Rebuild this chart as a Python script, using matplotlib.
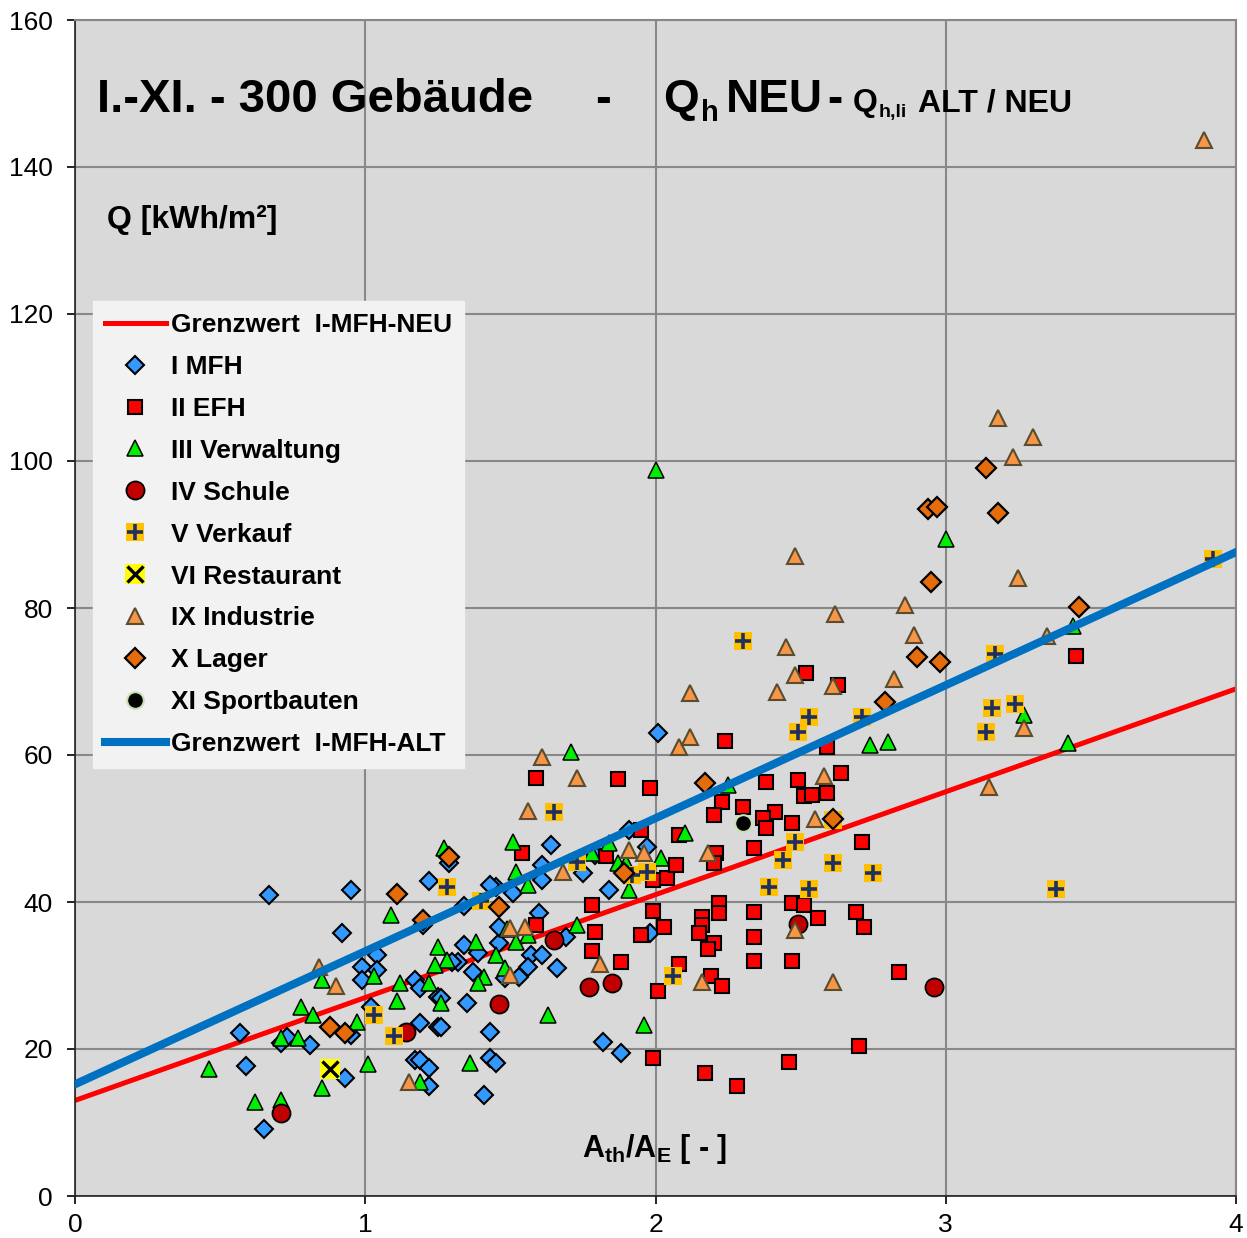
import matplotlib
matplotlib.use("Agg")
import matplotlib.pyplot as plt

plt.rcParams['font.family'] = ['Liberation Sans', 'DejaVu Sans']
plt.rcParams['mathtext.fontset'] = 'custom'
plt.rcParams['mathtext.rm'] = 'Liberation Sans'
plt.rcParams['mathtext.bf'] = 'Liberation Sans:bold'

# limit lines (A/V -> Q)
grenz_x = [0, 4]
grenz_neu_y = [13.0, 69.0]
grenz_alt_y = [15.2, 87.6]

# I MFH
mfh_x = [0.67, 0.95, 0.92, 0.57, 0.59, 0.65, 0.71, 0.73, 0.81, 0.93, 0.99, 1.04, 1.04, 0.99, 1.20,
         1.17, 1.19, 1.25, 1.32, 1.19, 1.25, 1.17, 1.19, 1.22, 1.22, 0.95, 1.02, 2.01, 1.64, 1.29,
         1.61, 1.79, 1.75, 1.61, 1.45, 1.51, 1.84, 1.91, 1.97, 1.60, 1.34, 1.43, 1.34, 1.39, 1.46,
         1.30, 1.37, 1.48, 1.53, 1.57, 1.61, 1.56, 1.66, 1.69, 1.98, 1.26, 1.35, 1.26, 1.43, 1.43,
         1.45, 1.41, 1.82, 1.88, 1.46, 1.22]
mfh_y = [41.0, 41.6, 35.8, 22.2, 17.7, 9.1, 20.8, 21.6, 20.5, 16.1, 31.2, 32.8, 30.7, 29.4, 36.9,
         29.4, 28.3, 27.1, 31.8, 23.5, 23.0, 18.5, 18.5, 17.4, 15.0, 21.9, 25.7, 63.0, 47.8, 45.3,
         45.0, 46.4, 43.9, 43.0, 42.0, 41.2, 41.6, 49.8, 47.5, 38.5, 39.5, 42.3, 34.1, 33.1, 34.4,
         31.8, 30.5, 29.7, 29.8, 32.8, 32.8, 31.2, 31.0, 35.2, 35.8, 26.9, 26.3, 23.0, 22.3, 18.8,
         18.1, 13.7, 21.0, 19.5, 36.6, 42.9]

# II EFH
efh_x = [1.59, 1.87, 1.98, 1.54, 1.83, 1.95, 2.08, 1.99, 2.04, 2.07, 1.78, 1.99, 2.24, 2.59, 2.38,
         2.49, 2.64, 2.51, 2.54, 2.59, 2.23, 2.20, 2.30, 2.41, 2.37, 2.38, 2.47, 2.71, 2.34, 2.21,
         2.20, 2.22, 2.47, 2.51, 2.34, 2.69, 2.22, 2.16, 2.16, 2.15, 2.56, 2.72, 2.20, 2.18, 2.34,
         2.34, 2.47, 2.19, 2.23, 2.84, 2.70, 2.46, 2.17, 2.28, 1.59, 1.79, 1.78, 1.88, 2.03, 1.95,
         2.08, 2.01, 1.99, 2.52, 2.63, 3.45]
efh_y = [56.9, 56.7, 55.5, 46.7, 46.3, 49.8, 49.1, 43.0, 43.3, 45.0, 39.6, 38.8, 61.9, 61.1, 56.3,
         56.6, 57.6, 54.4, 54.6, 54.8, 53.6, 51.8, 52.9, 52.2, 51.4, 50.1, 50.7, 48.2, 47.3, 46.7,
         45.3, 39.9, 39.9, 39.6, 38.6, 38.6, 38.5, 38.0, 36.9, 35.8, 37.8, 36.6, 34.4, 33.6, 35.2,
         32.0, 32.0, 29.9, 28.6, 30.5, 20.4, 18.2, 16.7, 15.0, 36.9, 35.9, 33.3, 31.8, 36.6, 35.5,
         31.6, 27.9, 18.8, 71.2, 69.5, 73.5]

# III Verwaltung
verw_x = [2.00, 3.00, 3.44, 3.27, 3.42, 2.74, 2.80, 2.25, 2.10, 1.71, 1.51, 1.27, 1.52, 1.56, 1.78,
          1.84, 1.87, 1.90, 2.02, 1.91, 1.38, 1.28, 1.45, 1.52, 1.56, 1.49, 1.48, 1.41, 1.39, 1.73,
          1.63, 1.96, 1.36, 1.26, 1.09, 1.25, 1.24, 1.12, 1.22, 1.11, 1.03, 0.85, 0.78, 0.82, 0.97,
          0.71, 0.77, 0.46, 1.01, 0.85, 0.62, 0.71, 1.19]
verw_y = [98.8, 89.4, 77.6, 65.4, 61.6, 61.4, 61.8, 55.9, 49.4, 60.4, 48.2, 47.3, 44.1, 42.3, 46.7,
          48.0, 45.3, 45.3, 46.0, 41.6, 34.6, 32.1, 32.8, 34.6, 35.5, 36.3, 31.0, 29.8, 29.0, 36.9,
          24.6, 23.3, 18.1, 26.3, 38.2, 33.9, 31.4, 29.0, 29.0, 26.5, 29.9, 29.4, 25.7, 24.6, 23.7,
          21.5, 21.5, 17.3, 18.0, 14.7, 12.8, 13.1, 15.5]

# IV Schule
schule_x = [0.71, 1.14, 1.46, 1.65, 1.77, 1.85, 2.49, 2.96]
schule_y = [11.3, 22.3, 26.1, 34.8, 28.4, 29.0, 37.0, 28.4]

# V Verkauf
verk_x = [2.30, 3.92, 3.17, 3.16, 3.24, 3.14, 3.38, 2.53, 2.71, 2.49, 2.61, 2.48, 2.44, 2.61, 2.75,
          2.39, 2.53, 1.65, 1.73, 1.92, 1.97, 1.28, 1.40, 1.03, 1.10, 2.06]
verk_y = [75.5, 86.7, 73.7, 66.4, 66.9, 63.1, 41.8, 65.2, 65.2, 63.1, 51.2, 48.2, 45.7, 45.3, 43.9,
          42.0, 41.8, 52.2, 45.4, 43.7, 44.1, 42.0, 40.1, 24.6, 21.8, 29.9]

# VI Restaurant
rest_x = [0.88]
rest_y = [17.3]

# IX Industrie
ind_x = [3.89, 3.18, 3.30, 3.23, 3.25, 2.86, 2.89, 2.82, 3.35, 3.27, 3.15, 2.48, 2.62, 2.45, 2.48,
         2.42, 2.12, 2.61, 1.61, 1.73, 1.56, 2.08, 2.12, 1.91, 1.96, 1.68, 2.58, 2.55, 2.18, 2.48,
         2.16, 2.61, 1.50, 1.55, 1.81, 1.50, 0.84, 0.90, 1.15]
ind_y = [143.7, 105.9, 103.3, 100.6, 84.1, 80.4, 76.3, 70.3, 76.2, 63.7, 55.6, 87.1, 79.2, 74.7, 70.9,
         68.6, 68.4, 69.4, 59.7, 56.9, 52.4, 61.1, 62.4, 47.1, 46.7, 44.1, 57.1, 51.3, 46.7, 36.2,
         29.1, 29.1, 36.5, 36.6, 31.6, 30.1, 31.2, 28.6, 15.5]

# X Lager
lager_x = [3.14, 2.94, 2.97, 3.18, 2.95, 3.46, 2.90, 2.98, 2.79, 2.17, 2.61, 1.89, 1.29, 1.46, 1.11,
           1.20, 0.88, 0.93]
lager_y = [99.0, 93.5, 93.7, 92.9, 83.5, 80.1, 73.3, 72.7, 67.2, 56.2, 51.3, 43.9, 46.1, 39.3, 41.1,
           37.6, 23.0, 22.2]

# XI Sportbauten
sport_x = [2.30]
sport_y = [50.7]

W, H = 1247, 1238
fig = plt.figure(figsize=(W / 100, H / 100), dpi=100)
ax = fig.add_axes([75 / W, 1 - 1196 / H, (1236 - 75) / W, (1196 - 20) / H])
ax.set_facecolor('#d9d9d9')

ax.set_xlim(0, 4)
ax.set_ylim(0, 160)
ax.set_xticks([0, 1, 2, 3, 4])
ax.set_yticks(range(0, 161, 20))
ax.grid(True, color='#888888', linewidth=1.5)
ax.set_axisbelow(True)
for s in ['top', 'right']:
    ax.spines[s].set_color('#888888')
    ax.spines[s].set_linewidth(1.5)
for s in ['left', 'bottom']:
    ax.spines[s].set_color('#222222')
    ax.spines[s].set_linewidth(1.2)
ax.tick_params(labelsize=19, length=6, width=1.2)
ax.tick_params(axis='y', pad=10)
ax.tick_params(axis='x', pad=6)

l_neu, = ax.plot(grenz_x, grenz_neu_y, color='#ff0000', lw=3.6, zorder=2,
                 label='Grenzwert  I-MFH-NEU')

h_mfh, = ax.plot(mfh_x, mfh_y, 'D', ms=9.5, mfc='#3399ff', mec='black', mew=1.5, ls='none',
                 zorder=3, label='I MFH')
h_efh, = ax.plot(efh_x, efh_y, 's', ms=10, mfc='#ff0000', mec='black', mew=1.5, ls='none',
                 zorder=3, label='II EFH')
h_verw, = ax.plot(verw_x, verw_y, '^', ms=11.5, mfc='#00ee00', mec='black', mew=1.1, ls='none',
                  zorder=3, label='III Verwaltung')
h_sch, = ax.plot(schule_x, schule_y, 'o', ms=13, mfc='#c00000', mec='black', mew=1.3, ls='none',
                 zorder=3, label='IV Schule')
h_vk1, = ax.plot(verk_x, verk_y, 's', ms=13, mfc='#ffc000', mec='#ffc000', mew=0, ls='none',
                 zorder=3)
h_vk2, = ax.plot(verk_x, verk_y, '+', ms=12, mec='#1f2f5f', mew=2.6, ls='none', zorder=3)
h_r1, = ax.plot(rest_x, rest_y, 's', ms=14, mfc='#ffff00', mec='#ffff00', mew=0, ls='none',
                zorder=3)
h_r2, = ax.plot(rest_x, rest_y, 'x', ms=12, mec='black', mew=2.4, ls='none', zorder=3)
h_ind, = ax.plot(ind_x, ind_y, '^', ms=12, mfc='#f79646', mec='#5a4c30', mew=1.5, ls='none',
                 zorder=3, label='IX Industrie')
h_lag, = ax.plot(lager_x, lager_y, 'D', ms=10, mfc='#e46c0a', mec='black', mew=1.6, ls='none',
                 zorder=3, label='X Lager')
h_sp, = ax.plot(sport_x, sport_y, 'o', ms=12, mfc='black', mec='#c6e0b4', mew=1.5, ls='none',
                zorder=3, label='XI Sportbauten')

l_alt, = ax.plot(grenz_x, grenz_alt_y, color='#0070c0', lw=5.8, zorder=4,
                 label='Grenzwert  I-MFH-ALT')

handles = [l_neu, h_mfh, h_efh, h_verw, h_sch, (h_vk1, h_vk2), (h_r1, h_r2), h_ind, h_lag, h_sp, l_alt]
labels = ['Grenzwert  I-MFH-NEU', 'I MFH', 'II EFH', 'III Verwaltung', 'IV Schule', 'V Verkauf',
          'VI Restaurant', 'IX Industrie', 'X Lager', 'XI Sportbauten', 'Grenzwert  I-MFH-ALT']
leg = fig.legend(handles, labels, loc='upper left', bbox_to_anchor=(93 / W, 1 - 301 / H),
                 bbox_transform=fig.transFigure, prop={'weight': 'bold', 'size': 19},
                 frameon=True, fancybox=False, framealpha=1, facecolor='#f2f2f2',
                 edgecolor='#f2f2f2', borderaxespad=0, borderpad=0.45, labelspacing=0.68,
                 handlelength=2.3, handletextpad=0.2)
leg.set_zorder(5)

# title pieces
def ftxt(px, py, s, size):
    fig.text(px / W, 1 - py / H, s, fontsize=size, fontweight='bold', va='baseline', ha='left')

ftxt(97, 112, 'I.-XI. - 300 Gebäude', 34)
ftxt(595, 112, '-', 34)
ftxt(663, 112, 'Q', 33)
ftxt(701, 121, 'h', 21)
ftxt(726, 112, 'NEU', 33)
ftxt(827, 112, '-', 33)
ftxt(853, 111, 'Q', 23)
ftxt(879, 117, 'h,li', 14)
ftxt(918, 111, 'ALT / NEU', 23)

ftxt(107, 228, 'Q [kWh/m²]', 23)
ftxt(582, 1157, r'$\mathbf{A_{th}/A_{E}}$ [ - ]', 22)

fig.savefig('out.png', dpi=100)
